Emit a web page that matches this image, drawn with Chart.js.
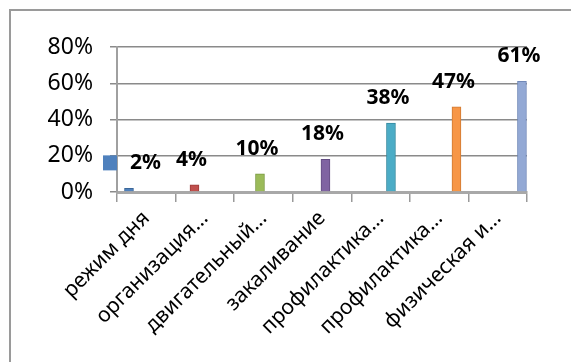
<!DOCTYPE html>
<html>
<head>
<meta charset="utf-8">
<script src="https://cdn.jsdelivr.net/npm/chart.js@4/dist/chart.umd.min.js"></script>
<style>
  html, body { margin: 0; padding: 0; background: #fff; width: 571px; height: 362px; overflow: hidden; }
  #cap { position: absolute; left: 10px; top: -31px; font: 27px "Liberation Serif"; line-height: 28px; white-space: nowrap; }
  #box { position: absolute; left: 9px; top: 9px; width: 620px; height: 420px; border: 2px solid #9a9a9a; background: #fff; }
  #c { position: absolute; left: 0; top: 0; }
</style>
</head>
<body>
<div id="cap">Диаграмма 1. Структура</div>
<div id="box"></div>
<canvas id="c" width="571" height="362"></canvas>
<script>
// survey chart, values

const categories = ["режим дня", "организация…", "двигательный…", "закаливание", "профилактика…", "профилактика…", "физическая и…"];
const percents = [2, 4, 10, 18, 38, 47, 61];
const barColors = ["#4F81BD", "#C0504D", "#9BBB59", "#8064A2", "#4BACC6", "#F79646", "#93A9D5"];
const barEdges = ["#3b6799", "#9c3b39", "#7a9a42", "#634d83", "#34899f", "#d07a32", "#7088b8"];
const yTicks = [0, 20, 40, 60, 80];

Chart.defaults.font.family = '"Noto Sans"';
Chart.defaults.color = "#000";

// data labels drawn over the bars; the first one carries its legend key
const valueLabels = {
  id: "valueLabels",
  afterDatasetsDraw(chart) {
    const ctx = chart.ctx;
    const meta = chart.getDatasetMeta(0);
    ctx.save();
    ctx.font = 'bold 21px "Noto Sans"';
    ctx.textBaseline = "middle";
    meta.data.forEach((bar, i) => {
      const txt = percents[i] + "%";
      const w = ctx.measureText(txt).width;
      const y = bar.y - 25;
      if (i === 0) {
        const total = 14 + 13 + w;
        const left = bar.x + 3 - total / 2;
        ctx.fillStyle = barColors[0];
        ctx.fillRect(left, y - 8, 14, 15);
        ctx.fillStyle = "#000";
        ctx.textAlign = "left";
        ctx.fillText(txt, left + 27, y);
      } else {
        ctx.fillStyle = "#000";
        ctx.textAlign = "center";
        ctx.fillText(txt, bar.x - 3, y);
      }
    });
    ctx.restore();
  }
};

new Chart(document.getElementById("c"), {
  type: "bar",
  data: {
    labels: categories,
    datasets: [{
      data: percents.map((v, i) => ({ x: i, y: v })),
      xAxisID: "xb",
      backgroundColor: barColors,
      borderColor: barEdges,
      borderWidth: 1,
      barThickness: 9
    }]
  },
  options: {
    responsive: false,
    animation: false,
    layout: { padding: { top: 47, right: 44, bottom: 0, left: 0 } },
    plugins: { legend: { display: false }, tooltip: { enabled: false } },
    scales: {
      x: {
        type: "category",
        offset: true,
        grid: { drawOnChartArea: false, tickLength: 10, color: "#9a9a9a", lineWidth: 1.5 },
        border: { color: "#a8a8a8", width: 3 },
        ticks: { minRotation: 45, maxRotation: 45, autoSkip: false, padding: 4, font: { size: 21 } },
        afterFit: s => { s.height = 170; }
      },
      // hidden axis the bars sit on (the 3d depth shifts them off the category centres)
      xb: {
        type: "linear",
        display: false,
        offset: false,
        min: -0.183,
        max: 6.077
      },
      y: {
        min: 0,
        max: 80,
        grid: { color: "#8a8a8a", lineWidth: 1.5, tickLength: 7 },
        border: { color: "#a0a0a0", width: 2 },
        ticks: { padding: 17, font: { size: 23 }, callback: v => v + "%" },
        afterBuildTicks: s => { s.ticks = yTicks.map(v => ({ value: v })); },
        afterFit: s => { s.width = 117; }
      }
    }
  },
  plugins: [valueLabels]
});
</script>
</body>
</html>
